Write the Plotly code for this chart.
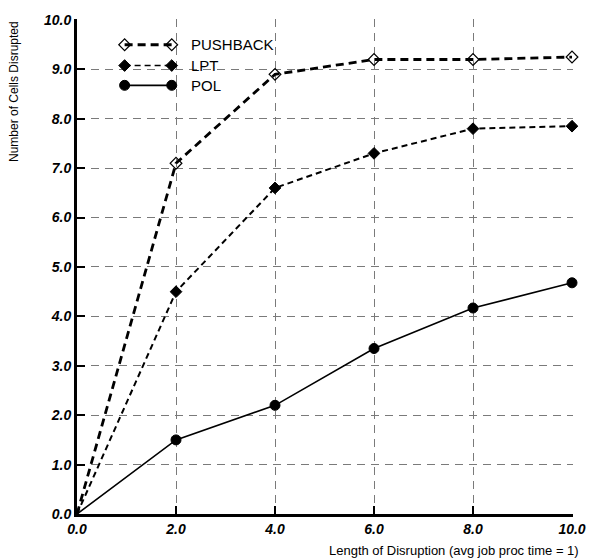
import plotly.graph_objects as go

x_vals = [0.0, 2.0, 4.0, 6.0, 8.0, 10.0]
pushback = [0.0, 7.1, 8.9, 9.2, 9.2, 9.25]
lpt = [0.0, 4.5, 6.6, 7.3, 7.8, 7.85]
pol = [0.0, 1.5, 2.2, 3.35, 4.17, 4.68]
tick_vals = [0, 1, 2, 3, 4, 5, 6, 7, 8, 9, 10]
tick_text = ["0.0", "1.0", "2.0", "3.0", "4.0", "5.0", "6.0", "7.0", "8.0", "9.0", "10.0"]
x_tick_vals = [0, 2, 4, 6, 8, 10]
x_tick_text = ["0.0", "2.0", "4.0", "6.0", "8.0", "10.0"]

series = [
    ("PUSHBACK", pushback, dict(color="black", width=2.8, dash="8px,5px"),
     dict(symbol="diamond-open", size=9, color="black", opacity=1, line=dict(width=1.2, color="black"))),
    ("LPT", lpt, dict(color="black", width=2.0, dash="6px,4px"),
     dict(symbol="diamond", size=9, color="black", opacity=1, line=dict(width=1, color="black"))),
    ("POL", pol, dict(color="black", width=1.6),
     dict(symbol="circle", size=10, color="black", opacity=1, line=dict(width=1, color="black"))),
]

fig = go.Figure()
for name, ys, line, marker in series:
    m = dict(marker)
    m["size"] = [0] + [marker["size"]] * (len(ys) - 1)
    fig.add_trace(go.Scatter(x=x_vals, y=ys, mode="lines+markers", name=name,
                             line=line, marker=m, showlegend=False, cliponaxis=False))

# custom legend on an overlay axis (0..1)
leg_y = [0.948, 0.906, 0.866]
for (name, ys, line, marker), yy in zip(series, leg_y):
    lline = dict(line)
    if name == "LPT":
        lline["width"] = 1.6
    fig.add_trace(go.Scatter(x=[0.096, 0.191], y=[yy, yy], mode="lines+markers",
                             line=lline, marker=marker, xaxis="x2", yaxis="y2",
                             showlegend=False, hoverinfo="skip"))
    fig.add_annotation(x=0.225, y=yy, xref="paper", yref="paper", text=name,
                       showarrow=False, xanchor="left", yanchor="middle",
                       font=dict(family="Liberation Sans, Arial", size=15, color="black"))

grid = dict(showgrid=True, gridcolor="#7a7a7a", gridwidth=1, griddash="8px,6px")
tickfont = dict(family="Liberation Sans, Arial", size=14, color="black", weight="bold", style="italic")

fig.update_layout(
    width=598, height=559,
    margin=dict(l=77, r=23, t=14, b=45),
    paper_bgcolor="white", plot_bgcolor="white",
    xaxis=dict(range=[0, 10.02], tickvals=x_tick_vals, ticktext=x_tick_text,
               showline=True, linecolor="black", linewidth=3, ticks="inside",
               ticklen=8, tickcolor="black", tickwidth=1.5, zeroline=False,
               tickfont=tickfont, **grid),
    yaxis=dict(range=[0, 10.02], tickvals=tick_vals, ticktext=tick_text,
               showline=True, linecolor="black", linewidth=3, ticks="inside",
               ticklen=8, tickcolor="black", tickwidth=1.5, zeroline=False,
               tickfont=tickfont, **grid),
    xaxis2=dict(range=[0, 1], overlaying="x", visible=False),
    yaxis2=dict(range=[0, 1], overlaying="y", visible=False),
)

fig.add_annotation(x=1.016, y=-0.074, xref="paper", yref="paper",
                   text="Length of Disruption (avg job proc time = 1)", showarrow=False,
                   xanchor="right", yanchor="middle",
                   font=dict(family="Liberation Sans, Arial", size=13, color="black"))
fig.add_annotation(x=-0.128, y=1.0, xref="paper", yref="paper",
                   text="Number of Cells Disrupted", showarrow=False, textangle=-90,
                   xanchor="center", yanchor="top",
                   font=dict(family="Liberation Sans, Arial", size=12, color="black"))

fig.write_html("out.html")
